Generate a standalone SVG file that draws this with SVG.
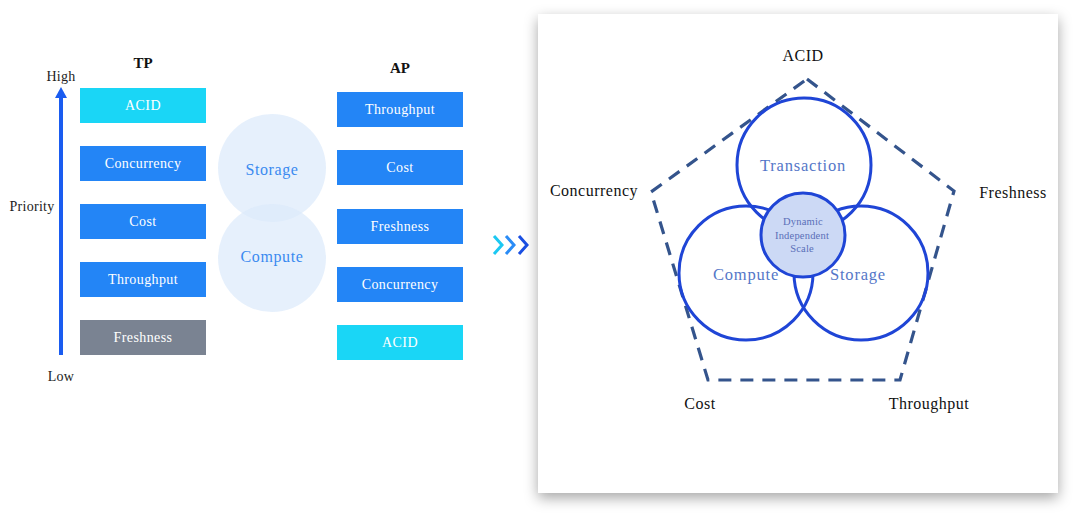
<svg xmlns="http://www.w3.org/2000/svg" width="1080" height="527" viewBox="0 0 1080 527">
<defs>
<filter id="shadow" x="-10%" y="-10%" width="120%" height="125%">
<feDropShadow dx="0" dy="5" stdDeviation="7" flood-color="#000" flood-opacity="0.35"/>
</filter>
</defs>
<style>
text{font-family:"Liberation Serif","DejaVu Serif",serif;}
.lbl{font-size:14px;fill:#222;text-anchor:middle;letter-spacing:0.3px;}
.hdr{font-size:15px;font-weight:bold;fill:#111;text-anchor:middle;}
.box{stroke:none;}
.blue{fill:#2385f6;}
.cyan{fill:#1ad6f6;}
.gray{fill:#7a8392;}
.btxt{font-size:14px;fill:#ffffff;text-anchor:middle;letter-spacing:0.4px;}
.sc{fill:#dce9fb;fill-opacity:0.7;}
.sctxt{font-size:16px;fill:#3a8af0;text-anchor:middle;letter-spacing:0.6px;}
.big{fill:none;stroke:#1f45d6;stroke-width:3;}
.ctxt{font-size:16.5px;fill:#5577c8;text-anchor:middle;letter-spacing:0.8px;}
.dtxt{font-size:10.5px;fill:#5a6fb8;text-anchor:middle;letter-spacing:0.2px;}
.out{font-size:16px;fill:#111;text-anchor:middle;letter-spacing:0.5px;}
.chev{fill:none;stroke-width:3;stroke-linejoin:miter;}
</style>
<rect width="1080" height="527" fill="#ffffff"/>

<g id="priority-axis">
<line x1="61" y1="355" x2="61" y2="96" stroke="#1a5cf0" stroke-width="4"/>
<path d="M55,98 L61,87 L67,98 Z" fill="#1a5cf0"/>
<text class="lbl" x="61" y="81">High</text>
<text class="lbl" x="61" y="381">Low</text>
<text class="lbl" x="32" y="211">Priority</text>
</g>

<g id="tp">
<text class="hdr" x="143" y="68">TP</text>
<g id="tp-acid"><rect class="box cyan" x="80" y="88" width="126" height="35"/><text class="btxt" x="143" y="110">ACID</text></g>
<g id="tp-concurrency"><rect class="box blue" x="80" y="146" width="126" height="35"/><text class="btxt" x="143" y="168">Concurrency</text></g>
<g id="tp-cost"><rect class="box blue" x="80" y="204" width="126" height="35"/><text class="btxt" x="143" y="226">Cost</text></g>
<g id="tp-throughput"><rect class="box blue" x="80" y="262" width="126" height="35"/><text class="btxt" x="143" y="284">Throughput</text></g>
<g id="tp-freshness"><rect class="box gray" x="80" y="320" width="126" height="35"/><text class="btxt" x="143" y="342">Freshness</text></g>
</g>

<g id="storage-compute">
<g id="sc-storage"><circle class="sc" cx="272" cy="168" r="54"/><text class="sctxt" x="272" y="175">Storage</text></g>
<g id="sc-compute"><circle class="sc" cx="272" cy="258" r="54"/><text class="sctxt" x="272" y="262">Compute</text></g>
</g>

<g id="ap">
<text class="hdr" x="400" y="73">AP</text>
<g id="ap-throughput"><rect class="box blue" x="337" y="92" width="126" height="35"/><text class="btxt" x="400" y="114">Throughput</text></g>
<g id="ap-cost"><rect class="box blue" x="337" y="150" width="126" height="35"/><text class="btxt" x="400" y="172">Cost</text></g>
<g id="ap-freshness"><rect class="box blue" x="337" y="209" width="126" height="35"/><text class="btxt" x="400" y="231">Freshness</text></g>
<g id="ap-concurrency"><rect class="box blue" x="337" y="267" width="126" height="35"/><text class="btxt" x="400" y="289">Concurrency</text></g>
<g id="ap-acid"><rect class="box cyan" x="337" y="325" width="126" height="35"/><text class="btxt" x="400" y="347">ACID</text></g>
</g>

<g id="chevrons">
<polyline class="chev" stroke="#1cc8f2" points="494,236 502,245 494,254"/>
<polyline class="chev" stroke="#2a8cf6" points="506,236 514,245 506,254"/>
<polyline class="chev" stroke="#1a4fe2" points="519,236 527,245 519,254"/>
</g>

<rect id="panel" x="538" y="14" width="520" height="479" fill="#ffffff" filter="url(#shadow)"/>

<g id="connectors">
<polygon id="pentagon" points="807,79 954,191 900,380 708,380 651,192" fill="none" stroke="#34548c" stroke-width="3.2" stroke-dasharray="13,9"/>
</g>

<g id="transaction"><circle class="big" cx="804" cy="165" r="67"/><text class="ctxt" x="803" y="171">Transaction</text></g>
<g id="compute"><circle class="big" cx="746" cy="273" r="67"/><text class="ctxt" x="746" y="280">Compute</text></g>
<g id="storage"><circle class="big" cx="861" cy="273" r="67"/><text class="ctxt" x="858" y="280">Storage</text></g>
<g id="dynamic-scale">
<circle cx="803" cy="235" r="42" fill="#ccd9f5" stroke="#1f45d6" stroke-width="3"/>
<text class="dtxt" x="803" y="225">Dynamic</text>
<text class="dtxt" x="802" y="239">Independent</text>
<text class="dtxt" x="802" y="252">Scale</text>
</g>

<g id="outer-labels">
<text class="out" x="594" y="196">Concurrency</text>
<text class="out" x="803" y="61">ACID</text>
<text class="out" x="1013" y="198">Freshness</text>
<text class="out" x="700" y="409">Cost</text>
<text class="out" x="929" y="409">Throughput</text>
</g>
</svg>
